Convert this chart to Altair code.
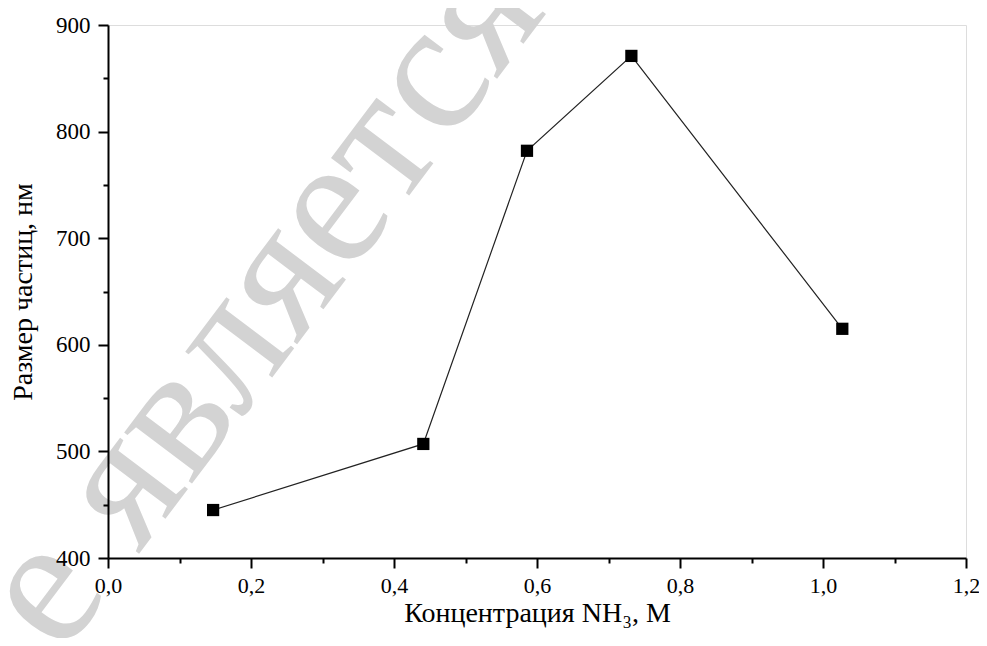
import altair as alt
import pandas as pd

conc = [0.147, 0.441, 0.586, 0.732, 1.027]
particle = [445, 507, 782, 871, 615]
x_ticks = [round(i * 0.1, 1) for i in range(13)]
y_ticks = list(range(400, 901, 50))

wm_text = ["Не является"]
wm_x = [0.219]
wm_y = [560]

df = pd.DataFrame({"conc": conc, "size": particle})
wm = pd.DataFrame({"x": wm_x, "y": wm_y, "t": wm_text})

FONT = "Liberation Serif"

xs = alt.Scale(domain=[0, 1.2], nice=False, zero=False)
ys = alt.Scale(domain=[400, 900], nice=False, zero=False)

x_axis = alt.Axis(
    values=x_ticks,
    labelExpr="round(datum.value*10)%2==0 ? replace(format(datum.value,'.1f'),'.',',') : ''",
    tickSize={"condition": {"test": "round(datum.value*10)%2==0", "value": 10}, "value": 5},
    grid=False, domainColor="black", domainWidth=2, tickColor="black", tickWidth=2,
    labelFont=FONT, labelFontSize=22, labelColor="black", labelPadding=7,
    title="Концентрация NH₃, М", titleFont=FONT, titleFontSize=28,
    titleFontWeight="normal", titleColor="black", titlePadding=3,
    labelFlush=False, labelOverlap=False, zindex=1,
)
y_axis = alt.Axis(
    values=y_ticks,
    labelExpr="datum.value % 100 == 0 ? format(datum.value,'d') : ''",
    tickSize={"condition": {"test": "datum.value % 100 == 0", "value": 10}, "value": 5},
    grid=False, domainColor="black", domainWidth=2, tickColor="black", tickWidth=2,
    labelFont=FONT, labelFontSize=23, labelColor="black", labelPadding=8,
    title="Размер частиц, нм", titleFont=FONT, titleFontSize=28,
    titleFontWeight="normal", titleColor="black", titlePadding=18,
    labelFlush=False, labelOverlap=False, zindex=1,
)

watermark = alt.Chart(wm).mark_text(
    angle=307, fontSize=185, font=FONT, color="#d3d3d3",
    align="center", baseline="alphabetic",
).encode(
    x=alt.X("x:Q", scale=xs, axis=x_axis),
    y=alt.Y("y:Q", scale=ys, axis=y_axis),
    text="t:N",
)

line = alt.Chart(df).mark_line(color="#222222", strokeWidth=1.2).encode(
    x=alt.X("conc:Q", scale=xs, axis=x_axis),
    y=alt.Y("size:Q", scale=ys, axis=y_axis),
)
pts = alt.Chart(df).mark_point(
    shape="square", filled=True, color="black", size=150, opacity=1
).encode(
    x=alt.X("conc:Q", scale=xs, axis=x_axis),
    y=alt.Y("size:Q", scale=ys, axis=y_axis),
)

chart = alt.layer(watermark, line, pts).properties(
    width=858, height=533,
    autosize=alt.AutoSizeParams(type="none"),
    padding={"left": 100, "top": 17, "right": 13, "bottom": 80},
).configure_view(stroke=None).configure(background="white")

chart.save("out.html", embed_options={"renderer": "svg", "actions": False})
